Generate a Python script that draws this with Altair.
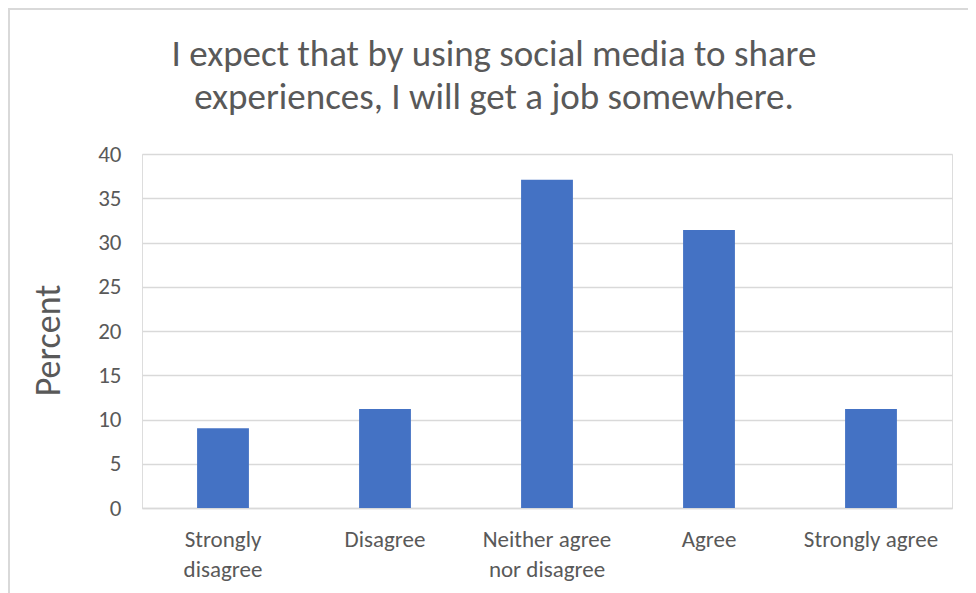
import altair as alt
import pandas as pd

categories = ["Strongly disagree", "Disagree", "Neither agree nor disagree", "Agree", "Strongly agree"]
percent = [9.0, 11.2, 37.1, 31.4, 11.2]
y_ticks = [0, 5, 10, 15, 20, 25, 30, 35, 40]
title_lines = ["I expect that by using social media to share", "experiences, I will get a job somewhere."]

df = pd.DataFrame({"category": categories, "percent": percent})

FONT = "Carlito, 'Liberation Sans Narrow', 'Open Sans', sans-serif"
GREY = "#595959"
LIGHT = "#d9d9d9"

label_expr = ("datum.value == 'Strongly disagree' ? ['Strongly', 'disagree'] : "
              "datum.value == 'Neither agree nor disagree' ? ['Neither agree', 'nor disagree'] : datum.value")

bars = alt.Chart(df).mark_bar(color="#4472C4").encode(
    x=alt.X("category:N", sort=categories,
            scale=alt.Scale(paddingInner=0.68, paddingOuter=0.34),
            axis=alt.Axis(title=None, labelAngle=0, labelExpr=label_expr,
                          labelFontSize=23, labelColor=GREY, labelFont=FONT,
                          labelLineHeight=30, labelPadding=20,
                          domain=True, domainColor=LIGHT, domainWidth=1.5,
                          ticks=False)),
    y=alt.Y("percent:Q", scale=alt.Scale(domain=[0, 40]),
            axis=alt.Axis(title="Percent", values=y_ticks, titleFontSize=36,
                          titleFont=FONT, titleColor=GREY, titleFontWeight="normal",
                          titlePadding=30, titleY=186, labelFontSize=23, labelColor=GREY,
                          labelFont=FONT, labelPadding=21,
                          domain=False, ticks=False, gridColor=LIGHT,
                          gridWidth=1.5)),
)

title = alt.Chart(pd.DataFrame({"t": [0]})).mark_text(
    text=title_lines, font=FONT, fontSize=37, color=GREY, lineHeight=43,
    align="center", baseline="alphabetic",
).encode(x=alt.value(352), y=alt.value(-88))

border_top = alt.Chart(df).mark_rule(color=LIGHT, strokeWidth=2).encode(
    x=alt.value(-134), x2=alt.value(830), y=alt.value(-145)
)
border_left = alt.Chart(df).mark_rule(color=LIGHT, strokeWidth=2).encode(
    x=alt.value(-133), y=alt.value(-146), y2=alt.value(440)
)

chart = alt.layer(bars, title, border_top, border_left).properties(
    width=810,
    height=354,
    padding={"left": 134, "top": 146, "right": 16, "bottom": 85},
    autosize=alt.AutoSizeParams(type="none"),
).configure_view(stroke=None).configure(background="white")

chart.save("out.html", embed_options={"renderer": "svg", "actions": False})
